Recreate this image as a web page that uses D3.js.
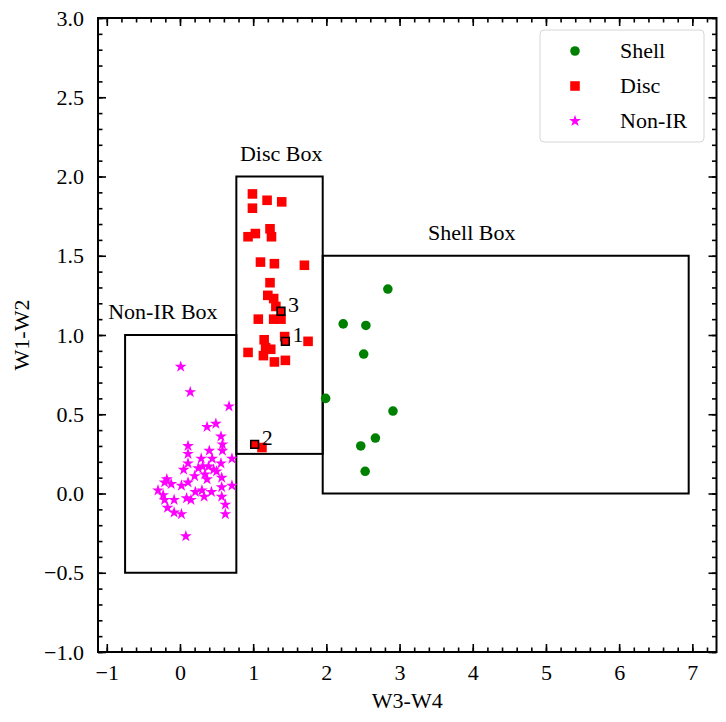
<!DOCTYPE html>
<html>
<head>
<meta charset="utf-8">
<script src="https://cdn.jsdelivr.net/npm/d3@7"></script>
<style>
  body { margin: 0; background: white; }
  svg text { font-family: "Liberation Serif", "DejaVu Serif", serif !important; }
</style>
</head>
<body>
<div id="chart"></div>
<script>
// colour-colour diagram, W3-W4 vs W1-W2

const shellX = [2.84, 2.23, 2.54, 2.51, 1.99, 2.91, 2.67, 2.47, 2.53];
const shellY = [1.29, 1.07, 1.06, 0.88, 0.60, 0.52, 0.35, 0.30, 0.14];

const discX = [0.99, 0.99, 1.19, 1.39, 0.93, 1.03, 1.23, 1.25, 1.10, 1.29, 1.70,
    1.23, 1.20, 1.28, 1.31, 1.07, 1.28, 1.38, 1.43, 1.75, 1.15, 1.17, 1.24,
    0.93, 1.14, 1.29, 1.44, 1.12];
const discY = [1.89, 1.80, 1.85, 1.84, 1.62, 1.64, 1.67, 1.62, 1.46, 1.45, 1.44,
    1.33, 1.25, 1.23, 1.18, 1.10, 1.10, 1.10, 0.99, 0.96, 0.97, 0.92, 0.91,
    0.89, 0.87, 0.83, 0.84, 0.29];

// the three numbered discs
const markedX = [1.44, 1.02, 1.38];
const markedY = [0.96, 0.31, 1.15];
const markedNames = ["1", "2", "3"];

const nonIrX = [0.01, 0.14, 0.67, 0.49, 0.37, 0.56, 0.58, 0.11, 0.40, 0.58, 0.11,
    0.71, 0.11, 0.29, 0.56, 0.31, 0.39, 0.46, 0.05, 0.20, 0.34, 0.50, 0.57,
    0.37, 0.11, -0.18, -0.21, -0.12, 0.02, 0.57, 0.71, -0.30, 0.21, 0.30,
    0.43, 0.33, -0.23, 0.09, 0.15, 0.57, -0.08, -0.21, 0.62, -0.17, -0.08,
    0.02, 0.62, 0.08, 0.25, 0.44];
const nonIrY = [0.80, 0.64, 0.55, 0.44, 0.42, 0.36, 0.31, 0.30, 0.27, 0.27, 0.25,
    0.22, 0.19, 0.22, 0.19, 0.17, 0.17, 0.15, 0.15, 0.11, 0.12, 0.14, 0.10,
    0.09, 0.07, 0.09, 0.07, 0.06, 0.05, 0.04, 0.05, 0.02, 0.01, 0.02,
    0.01, -0.02, -0.01, -0.03, -0.04, -0.02, -0.04, -0.04, -0.07, -0.09, -0.12,
    -0.13, -0.13, -0.27, 0.16, 0.22];

// selection boxes
const boxNames = ["Non-IR Box", "Disc Box", "Shell Box"];
const boxX0 = [-0.75, 0.77, 1.95];
const boxX1 = [0.77, 1.95, 6.95];
const boxY0 = [-0.5, 0.25, 0.0];
const boxY1 = [1.0, 2.0, 1.5];
const boxLabelX = [-0.98, 0.82, 3.39];
const boxLabelY = [1.1, 2.1, 1.6];

const legendNames = ["Shell", "Disc", "Non-IR"];

const xMajor = [-1, 0, 1, 2, 3, 4, 5, 6, 7];
const yMajor = [-1.0, -0.5, 0.0, 0.5, 1.0, 1.5, 2.0, 2.5, 3.0];

const width = 726, height = 722;
const margin = { top: 18, right: 9.5, bottom: 70, left: 98 };
const fs = 22;
const serif = "'Liberation Serif', 'DejaVu Serif', serif";

const svg = d3.select("#chart")
    .append("svg")
    .attr("width", width)
    .attr("height", height)
    .attr("font-family", serif);

const x = d3.scaleLinear()
    .domain([-1.12, 7.33])
    .range([margin.left, width - margin.right]);

const y = d3.scaleLinear()
    .domain([-1, 3])
    .range([height - margin.bottom, margin.top]);

const minus = s => s.replace("-", "\u2212");
const xMinor = d3.range(-1.0, 7.31, 0.2).map(v => +v.toFixed(2));
const yMinor = d3.range(-1.0, 3.001, 0.1).map(v => +v.toFixed(2));

const fmtX = d => minus(d3.format("d")(d));
const fmtY = d => minus(d3.format(".1f")(d));

// Axes, ticks pointing in on all four sides
function addAxis(axis, tx, ty) {
    const g = svg.append("g")
        .attr("transform", `translate(${tx}, ${ty})`)
        .call(axis)
        .attr("font-family", serif)
        .attr("font-size", fs);
    g.select(".domain").remove();
    g.selectAll(".tick line").attr("stroke", "black").attr("stroke-width", 1.6);
    g.selectAll("text").attr("fill", "black");
    return g;
}

const bottomY = height - margin.bottom;
const rightX = width - margin.right;

addAxis(d3.axisBottom(x).tickValues(xMajor).tickFormat(fmtX).tickSize(-8).tickPadding(12), 0, bottomY);
addAxis(d3.axisBottom(x).tickValues(xMinor).tickFormat("").tickSize(-4.5), 0, bottomY);
addAxis(d3.axisTop(x).tickValues(xMajor).tickFormat("").tickSize(-8), 0, margin.top);
addAxis(d3.axisTop(x).tickValues(xMinor).tickFormat("").tickSize(-4.5), 0, margin.top);

addAxis(d3.axisLeft(y).tickValues(yMajor).tickFormat(fmtY).tickSize(-8).tickPadding(14), margin.left, 0);
addAxis(d3.axisLeft(y).tickValues(yMinor).tickFormat("").tickSize(-4.5), margin.left, 0);
addAxis(d3.axisRight(y).tickValues(yMajor).tickFormat("").tickSize(-8), rightX, 0);
addAxis(d3.axisRight(y).tickValues(yMinor).tickFormat("").tickSize(-4.5), rightX, 0);

// Boxes
boxNames.forEach((name, i) => {
    svg.append("rect")
        .attr("x", x(boxX0[i]))
        .attr("y", y(boxY1[i]))
        .attr("width", x(boxX1[i]) - x(boxX0[i]))
        .attr("height", y(boxY0[i]) - y(boxY1[i]))
        .attr("fill", "none")
        .attr("stroke", "black")
        .attr("stroke-width", 2);

    svg.append("text")
        .attr("x", x(boxLabelX[i]))
        .attr("y", y(boxLabelY[i]))
        .attr("font-size", fs)
        .attr("fill", "black")
        .text(name);
});

const star = d3.symbol().type(d3.symbolStar).size(44);
const square = d3.symbol().type(d3.symbolSquare).size(92);
const circle = d3.symbol().type(d3.symbolCircle).size(72);
const smallSquare = d3.symbol().type(d3.symbolSquare).size(60);

// Non-IR stars
svg.selectAll("path.nonir")
    .data(d3.zip(nonIrX, nonIrY))
    .enter()
    .append("path")
    .attr("class", "nonir")
    .attr("transform", d => `translate(${x(d[0])}, ${y(d[1])})`)
    .attr("d", star)
    .attr("fill", "#ff00ff");

// Shell circles
svg.selectAll("path.shell")
    .data(d3.zip(shellX, shellY))
    .enter()
    .append("path")
    .attr("class", "shell")
    .attr("transform", d => `translate(${x(d[0])}, ${y(d[1])})`)
    .attr("d", circle)
    .attr("fill", "#008000");

// Disc squares
svg.selectAll("path.disc")
    .data(d3.zip(discX, discY))
    .enter()
    .append("path")
    .attr("class", "disc")
    .attr("transform", d => `translate(${x(d[0])}, ${y(d[1])})`)
    .attr("d", square)
    .attr("fill", "#ff0000");

// Numbered discs
const marked = d3.zip(markedX, markedY, markedNames);
svg.selectAll("path.marked")
    .data(marked)
    .enter()
    .append("path")
    .attr("class", "marked")
    .attr("transform", d => `translate(${x(d[0])}, ${y(d[1])})`)
    .attr("d", smallSquare)
    .attr("fill", "#ff0000")
    .attr("stroke", "black")
    .attr("stroke-width", 1.6);

svg.selectAll("text.marked")
    .data(marked)
    .enter()
    .append("text")
    .attr("class", "marked")
    .attr("x", d => x(d[0]) + 7)
    .attr("y", d => y(d[1]) + 1)
    .attr("font-size", fs)
    .attr("fill", "black")
    .text(d => d[2]);

// Frame
svg.append("rect")
    .attr("x", margin.left)
    .attr("y", margin.top)
    .attr("width", rightX - margin.left)
    .attr("height", bottomY - margin.top)
    .attr("fill", "none")
    .attr("stroke", "black")
    .attr("stroke-width", 2);

// Legend
const legend = svg.append("g").attr("transform", "translate(540, 30)");
legend.append("rect")
    .attr("width", 164)
    .attr("height", 112)
    .attr("rx", 4)
    .attr("fill", "white")
    .attr("fill-opacity", 0.8)
    .attr("stroke", "#d6d6d6")
    .attr("stroke-width", 1);

const legendSyms = [
    { sym: circle, fill: "#008000" },
    { sym: square, fill: "#ff0000" },
    { sym: star, fill: "#ff00ff" }
];
legendNames.forEach((name, i) => {
    const cy = 21 + i * 35;
    legend.append("path")
        .attr("transform", `translate(35, ${cy})`)
        .attr("d", legendSyms[i].sym)
        .attr("fill", legendSyms[i].fill);
    legend.append("text")
        .attr("x", 80)
        .attr("y", cy + 7)
        .attr("font-size", fs)
        .attr("fill", "black")
        .text(name);
});

// Axis titles
svg.append("text")
    .attr("x", (margin.left + rightX) / 2)
    .attr("y", height - 14)
    .attr("text-anchor", "middle")
    .attr("font-size", fs)
    .attr("fill", "black")
    .text("W3-W4");

svg.append("text")
    .attr("transform", "rotate(-90)")
    .attr("x", -(margin.top + bottomY) / 2)
    .attr("y", 29)
    .attr("text-anchor", "middle")
    .attr("font-size", fs)
    .attr("fill", "black")
    .text("W1-W2");
</script>
</body>
</html>
